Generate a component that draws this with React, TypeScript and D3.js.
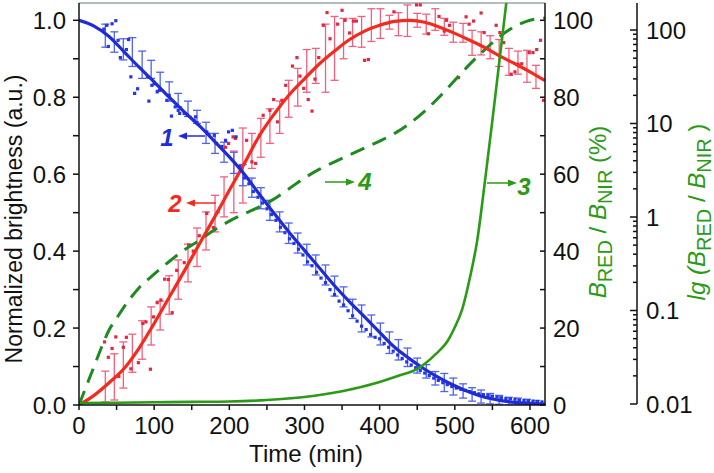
import { useEffect, useRef } from "react";
import * as d3 from "d3";

const width = 714;
const height = 473;

// fitted curves, sampled every 20 min
const fitTime = [0, 20, 40, 60, 80, 100, 120, 140, 160, 180, 200, 220, 240, 260, 280, 300, 320, 340, 360, 380, 400, 420, 440, 460, 480, 500, 520, 540, 560, 580, 600, 620];
const blueFit = [1.0, 0.985, 0.958, 0.918, 0.878, 0.84, 0.8, 0.762, 0.726, 0.686, 0.645, 0.6, 0.548, 0.497, 0.448, 0.402, 0.356, 0.31, 0.268, 0.229, 0.189, 0.15, 0.12, 0.093, 0.07, 0.05, 0.033, 0.02, 0.012, 0.007, 0.004, 0.002];
const redFit = [0.0, 0.025, 0.058, 0.095, 0.148, 0.212, 0.28, 0.348, 0.418, 0.487, 0.558, 0.628, 0.7, 0.757, 0.807, 0.848, 0.887, 0.92, 0.95, 0.972, 0.987, 0.997, 1.0, 0.995, 0.982, 0.966, 0.948, 0.929, 0.907, 0.887, 0.866, 0.843];

// error bars
const barTime = [35, 47, 59, 71, 84, 96, 108, 120, 132, 145, 157, 169, 181, 193, 206, 218, 230, 242, 254, 267, 279, 291, 303, 315, 328, 340, 352, 364, 376, 389, 401, 413, 425, 437, 450, 462, 474, 486, 498, 511, 523, 535, 547, 559, 572, 584, 596, 608];
const blueLow = [0.93, 0.917, 0.897, 0.88, 0.849, 0.849, 0.818, 0.79, 0.775, 0.75, 0.732, 0.68, 0.654, 0.631, 0.602, 0.57, 0.54, 0.51, 0.48, 0.45, 0.42, 0.395, 0.364, 0.338, 0.312, 0.283, 0.255, 0.225, 0.19, 0.177, 0.156, 0.134, 0.117, 0.1, 0.083, 0.07, 0.052, 0.035, 0.026, 0.018, 0.01, 0.005, 0.003, 0.002, 0.0, 0.0, 0.0, 0.0];
const blueHigh = [0.99, 0.97, 0.952, 0.955, 0.92, 0.896, 0.865, 0.84, 0.81, 0.79, 0.766, 0.735, 0.706, 0.683, 0.657, 0.625, 0.59, 0.565, 0.532, 0.502, 0.473, 0.447, 0.418, 0.39, 0.364, 0.335, 0.307, 0.275, 0.26, 0.234, 0.213, 0.19, 0.17, 0.148, 0.122, 0.105, 0.087, 0.082, 0.07, 0.055, 0.045, 0.039, 0.03, 0.025, 0.02, 0.018, 0.015, 0.012];
const redLow = [0.008, 0.013, 0.044, 0.085, 0.119, 0.156, 0.195, 0.236, 0.275, 0.32, 0.36, 0.403, 0.45, 0.489, 0.5, 0.525, 0.615, 0.644, 0.68, 0.706, 0.748, 0.777, 0.813, 0.836, 0.813, 0.844, 0.9, 0.932, 0.93, 0.945, 0.953, 0.977, 0.96, 0.958, 0.982, 0.964, 0.974, 0.961, 0.943, 0.943, 0.909, 0.91, 0.9, 0.88, 0.857, 0.86, 0.839, 0.823];
const redHigh = [0.088, 0.133, 0.164, 0.184, 0.219, 0.255, 0.27, 0.336, 0.377, 0.418, 0.46, 0.502, 0.545, 0.593, 0.66, 0.72, 0.706, 0.745, 0.77, 0.79, 0.844, 0.875, 0.924, 0.927, 0.99, 1.01, 1.005, 1.005, 1.01, 1.03, 1.03, 1.013, 1.02, 1.04, 1.018, 1.016, 1.03, 1.005, 0.995, 0.992, 0.974, 0.97, 0.96, 0.95, 0.927, 0.92, 0.922, 0.883];

// raw points
const blueDotTime = [33, 37, 39, 44, 49, 52, 55, 63, 66, 69, 74, 78, 91, 93, 97, 100, 104, 107, 117, 120, 123, 128, 132, 134, 140, 144, 153, 155, 157, 170, 173, 180, 183, 190, 195, 199, 204, 209, 214, 220, 226, 232, 238, 244, 250, 256, 262, 268, 274, 280, 286, 292, 298, 304, 310, 316, 322, 328, 334, 340, 346, 352, 358, 364, 370, 376, 382, 388, 394, 400, 406, 412, 418, 424, 430, 436, 442, 448, 454, 460, 466, 472, 478, 484, 490, 496, 502, 508, 514, 520, 526, 532, 538, 544, 550, 556, 562, 568, 574, 580, 586, 592, 598, 604, 610, 616];
const blueDotValue = [0.977, 0.987, 0.932, 0.991, 0.999, 0.948, 0.903, 0.924, 0.95, 0.853, 0.81, 0.822, 0.853, 0.79, 0.831, 0.835, 0.814, 0.818, 0.792, 0.805, 0.751, 0.775, 0.766, 0.758, 0.758, 0.753, 0.74, 0.749, 0.734, 0.71, 0.704, 0.701, 0.68, 0.672, 0.688, 0.71, 0.714, 0.697, 0.62, 0.59, 0.575, 0.555, 0.54, 0.525, 0.51, 0.495, 0.48, 0.462, 0.448, 0.432, 0.42, 0.405, 0.39, 0.372, 0.362, 0.345, 0.33, 0.318, 0.3, 0.287, 0.27, 0.26, 0.245, 0.232, 0.218, 0.205, 0.196, 0.183, 0.176, 0.172, 0.16, 0.15, 0.14, 0.13, 0.121, 0.112, 0.104, 0.097, 0.09, 0.083, 0.077, 0.07, 0.064, 0.058, 0.053, 0.048, 0.044, 0.041, 0.038, 0.035, 0.032, 0.029, 0.027, 0.025, 0.023, 0.021, 0.019, 0.017, 0.016, 0.015, 0.013, 0.012, 0.011, 0.01, 0.009, 0.008];
const redDotTime = [34, 39, 44, 49, 53, 59, 63, 69, 79, 85, 89, 95, 99, 104, 109, 114, 119, 124, 130, 140, 146, 152, 160, 170, 179, 185, 195, 199, 205, 208, 223, 230, 235, 240, 245, 254, 259, 264, 270, 275, 284, 290, 294, 299, 305, 310, 314, 319, 325, 330, 334, 344, 350, 354, 360, 365, 369, 380, 385, 419, 449, 454, 465, 479, 486, 489, 493, 505, 515, 519, 525, 535, 539, 555, 560, 565, 575, 580, 584, 589, 599, 604, 609, 614, 618];
const redDotValue = [0.164, 0.124, 0.147, 0.177, 0.074, 0.15, 0.176, 0.094, 0.11, 0.212, 0.216, 0.093, 0.229, 0.266, 0.273, 0.327, 0.326, 0.24, 0.35, 0.37, 0.416, 0.4, 0.44, 0.498, 0.461, 0.502, 0.67, 0.68, 0.697, 0.693, 0.688, 0.632, 0.628, 0.701, 0.753, 0.766, 0.794, 0.736, 0.792, 0.831, 0.881, 0.903, 0.855, 0.823, 0.794, 0.764, 0.847, 0.903, 0.987, 1.02, 0.952, 0.99, 1.026, 1.0, 0.967, 0.998, 0.998, 0.896, 0.898, 1.022, 1.04, 1.04, 0.965, 1.01, 0.972, 1.0, 0.987, 0.851, 1.009, 0.99, 0.998, 1.019, 0.968, 0.987, 0.968, 0.942, 0.86, 0.866, 0.886, 0.887, 0.916, 0.916, 0.924, 0.948, 0.792];

// curve 3 (solid green) and curve 4 (dashed green), in %
const ratioTime = [0, 50, 100, 150, 200, 250, 300, 350, 400, 425, 450, 475, 490, 500, 510, 520, 530, 540, 550, 560, 570];
const ratioPct = [0.5, 0.6, 0.7, 0.8, 0.9, 1.3, 2.1, 3.6, 6.0, 7.6, 9.4, 13.3, 16.5, 20.2, 25, 33, 43, 58, 74, 90.5, 107];
const shareTime = [0, 10, 20, 30, 40, 50, 60, 80, 100, 120, 140, 160, 180, 200, 220, 240, 260, 280, 300, 320, 340, 360, 380, 400, 420, 440, 460, 480, 500, 520, 540, 560, 580, 600, 620];
const sharePct = [0, 5, 10, 15, 19.5, 22.5, 25.5, 30.5, 34, 37.3, 40.3, 42.8, 45.5, 47.8, 49.7, 51.5, 53.6, 56.3, 59, 61.3, 63.2, 65, 66.8, 68.6, 70.6, 73.2, 76.4, 80.2, 84.4, 88.6, 92.4, 95.8, 98.4, 100, 100.6];

const timeTicks = [0, 100, 200, 300, 400, 500, 600];
const brightTicks = [0, 0.2, 0.4, 0.6, 0.8, 1.0];
const pctTicks = [0, 20, 40, 60, 80, 100];
const lgTicks = [0.01, 0.1, 1, 10, 100];
const lgLabels = ["0.01", "0.1", "1", "10", "100"];

const font = "'Liberation Sans', Arial, sans-serif";
const blue = "#1f2bd6";
const red = "#f42a1e";
const green = "#2b9a16";

const Chart = () => {
  const ref = useRef<SVGSVGElement>(null);

  useEffect(() => {
    const svg = d3.select(ref.current);
    svg.selectAll("*").remove();

    const x = d3.scaleLinear().domain([0, 620]).range([79, 545]);
    const y = d3.scaleLinear().domain([0, 1]).range([405, 20.3]);
    const yPct = d3.scaleLinear().domain([0, 100]).range([405, 20.3]);
    const yLg = d3.scaleLog().domain([0.01, 100]).range([404, 30]);
    const top = 3;

    svg.append("defs").append("clipPath").attr("id", "plot-clip")
      .append("rect").attr("x", 79).attr("y", top).attr("width", 466).attr("height", 402);

    // frame
    svg.append("line").attr("x1", 79).attr("x2", 545).attr("y1", top).attr("y2", top)
      .attr("stroke", "#9aa4aa").attr("stroke-width", 1.5);

    const plot = svg.append("g").attr("clip-path", "url(#plot-clip)");

    // error bars
    const drawBars = (lo: number[], hi: number[], col: string) => {
      const g = plot.append("g").attr("stroke", col).attr("stroke-width", 1.3);
      barTime.forEach((t, i) => {
        const cx = x(t);
        g.append("line").attr("x1", cx).attr("x2", cx).attr("y1", y(lo[i])).attr("y2", y(hi[i]));
        g.append("line").attr("x1", cx - 4).attr("x2", cx + 4).attr("y1", y(lo[i])).attr("y2", y(lo[i]));
        g.append("line").attr("x1", cx - 4).attr("x2", cx + 4).attr("y1", y(hi[i])).attr("y2", y(hi[i]));
      });
    };
    drawBars(redLow, redHigh, "#f2607f");
    drawBars(blueLow, blueHigh, "#4f63f0");

    const drawDots = (ts: number[], vs: number[], col: string) => {
      plot.append("g").selectAll("rect").data(ts).enter().append("rect")
        .attr("x", (d) => x(d) - 1.6)
        .attr("y", (d, i) => y(vs[i]) - 1.6)
        .attr("width", 3.2).attr("height", 3.2)
        .attr("fill", col);
    };
    drawDots(redDotTime, redDotValue, "#e8253f");
    drawDots(blueDotTime, blueDotValue, "#2436e6");

    const line = (sx: any, sy: any, ts: number[], vs: number[]) =>
      d3.line<number>().x((d) => sx(d)).y((d, i) => sy(vs[i])).curve(d3.curveMonotoneX)(ts);

    plot.append("path").attr("d", line(x, yPct, shareTime, sharePct))
      .attr("fill", "none").attr("stroke", "#1f8a1f").attr("stroke-width", 3)
      .attr("stroke-dasharray", "15,9");
    plot.append("path").attr("d", line(x, y, fitTime, redFit))
      .attr("fill", "none").attr("stroke", red).attr("stroke-width", 3.2);
    plot.append("path").attr("d", line(x, y, fitTime, blueFit))
      .attr("fill", "none").attr("stroke", blue).attr("stroke-width", 3.2);
    plot.append("path").attr("d", line(x, yPct, ratioTime, ratioPct))
      .attr("fill", "none").attr("stroke", green).attr("stroke-width", 2.6);

    // axes
    const ax = svg.append("g").attr("stroke", "#111").attr("stroke-width", 1.5);
    ax.append("line").attr("x1", 79).attr("x2", 79).attr("y1", top).attr("y2", 405);
    ax.append("line").attr("x1", 78).attr("x2", 546).attr("y1", 405).attr("y2", 405);
    ax.append("line").attr("x1", 545).attr("x2", 545).attr("y1", top).attr("y2", 405);
    ax.append("line").attr("x1", 637).attr("x2", 637).attr("y1", top).attr("y2", 404);

    d3.range(0, 621, 50).forEach((t) => {
      ax.append("line").attr("x1", x(t)).attr("x2", x(t)).attr("y1", 405).attr("y2", 410);
    });
    d3.range(0, 1.01, 0.1).forEach((v) => {
      ax.append("line").attr("x1", 73).attr("x2", 79).attr("y1", y(v)).attr("y2", y(v));
    });
    d3.range(0, 101, 10).forEach((v) => {
      ax.append("line").attr("x1", 540).attr("x2", 545).attr("y1", yPct(v)).attr("y2", yPct(v));
    });
    yLg.ticks().forEach((v) => {
      const major = lgTicks.includes(v);
      ax.append("line").attr("x1", major ? 630 : 633).attr("x2", 637).attr("y1", yLg(v)).attr("y2", yLg(v));
    });
    [200, 300, 400, 500, 600, 700, 800, 900].forEach((v) => {
      if (yLg(v) > top) ax.append("line").attr("x1", 633).attr("x2", 637).attr("y1", yLg(v)).attr("y2", yLg(v));
    });

    const txt = svg.append("g").attr("font-family", font).attr("font-size", 24).attr("fill", "#111");
    timeTicks.forEach((t) => {
      txt.append("text").attr("x", x(t)).attr("y", 434).attr("text-anchor", "middle").text(t);
    });
    brightTicks.forEach((v) => {
      txt.append("text").attr("x", 66).attr("y", y(v)).attr("dy", "0.36em").attr("text-anchor", "end").text(v.toFixed(1));
    });
    pctTicks.forEach((v) => {
      txt.append("text").attr("x", 553).attr("y", yPct(v)).attr("dy", "0.36em").text(v);
    });
    lgTicks.forEach((v, i) => {
      txt.append("text").attr("x", 646).attr("y", yLg(v)).attr("dy", "0.36em").text(lgLabels[i]);
    });

    txt.append("text").attr("x", 306).attr("y", 462).attr("text-anchor", "middle").attr("font-size", 24).text("Time (min)");
    txt.append("text").attr("transform", "translate(22,219) rotate(-90)").attr("text-anchor", "middle")
      .attr("font-size", 23).text("Normalized brightness (a.u.)");

    const ratioTitle = (tx: number, prefix: string, suffix: string) => {
      const t = svg.append("text").attr("transform", `translate(${tx},212) rotate(-90)`)
        .attr("text-anchor", "middle").attr("font-family", font).attr("font-size", 24).attr("fill", green);
      if (prefix) t.append("tspan").attr("font-style", "italic").text(prefix);
      t.append("tspan").attr("font-style", "italic").text("B");
      t.append("tspan").attr("font-size", 20).attr("dy", 6).text("RED");
      t.append("tspan").attr("dy", -6).text(" / ");
      t.append("tspan").attr("font-style", "italic").text("B");
      t.append("tspan").attr("font-size", 20).attr("dy", 6).text("NIR");
      t.append("tspan").attr("dy", -6).text(suffix);
    };
    ratioTitle(606, "", " (%)");
    ratioTitle(705, "lg (", " )");

    // curve labels with arrows
    const notes = [
      { label: "1", col: blue, tx: 167, ty: 146, x1: 205, x2: 178, ay: 136 },
      { label: "2", col: red, tx: 175, ty: 212, x1: 216, x2: 186, ay: 203 },
      { label: "4", col: green, tx: 365, ty: 190, x1: 325, x2: 355, ay: 182 },
      { label: "3", col: green, tx: 524, ty: 195, x1: 487, x2: 517, ay: 183 },
    ];
    notes.forEach((n) => {
      svg.append("text").attr("x", n.tx).attr("y", n.ty).attr("text-anchor", "middle")
        .attr("font-family", font).attr("font-size", 24).attr("font-weight", "bold")
        .attr("font-style", "italic").attr("fill", n.col).text(n.label);
      const dir = Math.sign(n.x2 - n.x1);
      svg.append("line").attr("x1", n.x1).attr("x2", n.x2 - dir * 7).attr("y1", n.ay).attr("y2", n.ay)
        .attr("stroke", n.col).attr("stroke-width", 1.5);
      svg.append("path")
        .attr("d", `M${n.x2},${n.ay} L${n.x2 - dir * 9},${n.ay - 3.5} L${n.x2 - dir * 9},${n.ay + 3.5} Z`)
        .attr("fill", n.col);
    });
  }, []);

  return (
    <svg
      ref={ref}
      width={width}
      height={height}
      style={{ position: "absolute", left: 0, top: 0, background: "#fff" }}
    />
  );
};

export default function App() {
  return <Chart />;
}
